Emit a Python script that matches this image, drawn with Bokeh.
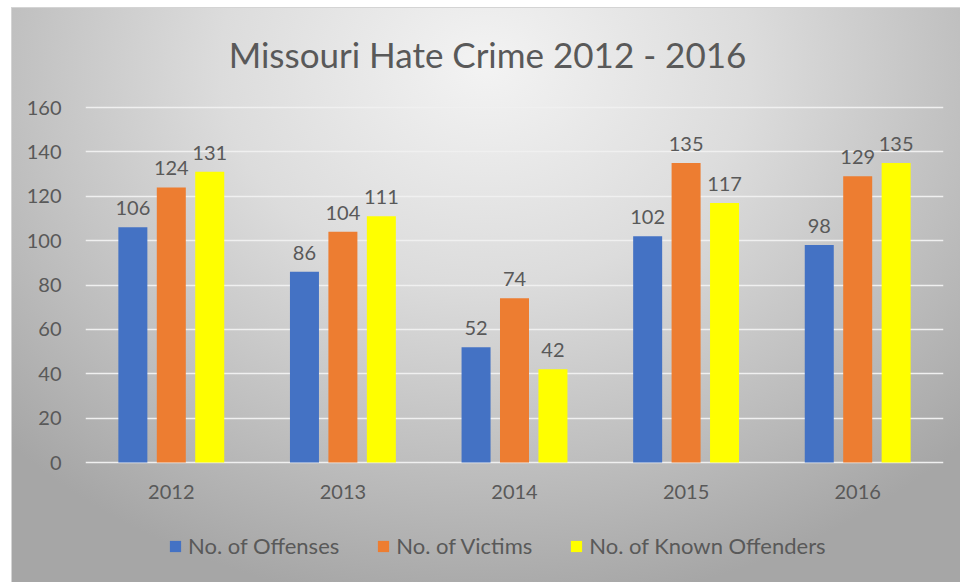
from bokeh.plotting import figure
from bokeh.models import ColumnDataSource, FactorRange, Range1d, Legend, LegendItem, Label
from bokeh.transform import dodge
from bokeh.embed import file_html
from bokeh.resources import INLINE
from bokeh.core.properties import value

# ---- data ----
years = ["2012", "2013", "2014", "2015", "2016"]
offenses = [106, 86, 52, 102, 98]
victims = [124, 104, 74, 135, 129]
known_offenders = [131, 111, 42, 117, 135]
series_names = ["No. of Offenses", "No. of Victims", "No. of Known Offenders"]
series_keys = ["offenses", "victims", "known_offenders"]
series_colors = ["#4472C4", "#ED7D31", "#FFFF00"]
y_ticks = [0, 20, 40, 60, 80, 100, 120, 140, 160]
chart_title = "Missouri Hate Crime 2012 - 2016"

FONT = "Lato"
TXT = "#595959"

# ---- layout (pixels) ----
FRAME_W, FRAME_H = 858, 582
Y0_PX, YTOP_PX = 462, 107            # where 0 and 160 sit from the top
px_per_unit = (Y0_PX - YTOP_PX) / 160.0
y_hi = 160 + YTOP_PX / px_per_unit
y_lo = -(FRAME_H - Y0_PX) / px_per_unit

source = ColumnDataSource(dict(
    years=years,
    offenses=offenses,
    victims=victims,
    known_offenders=known_offenders,
    offenses_lbl=[str(v) for v in offenses],
    victims_lbl=[str(v) for v in victims],
    known_offenders_lbl=[str(v) for v in known_offenders],
))

p = figure(
    x_range=FactorRange(factors=years, range_padding=0),
    y_range=Range1d(y_lo, y_hi),
    frame_width=FRAME_W, frame_height=FRAME_H,
    output_backend="svg", toolbar_location=None,
    min_border_left=85, min_border_right=17,
    min_border_top=0, min_border_bottom=0,
    background_fill_color=None, border_fill_color=None,
    outline_line_color=None,
)
p.styles = {
    "background": (
        "linear-gradient(#d4d4d4, #d4d4d4) 11px 7px / 949px 1px no-repeat, "
        "linear-gradient(#d4d4d4, #d4d4d4) 11px 7px / 1px 575px no-repeat, "
        "radial-gradient(ellipse 70% 95% at 50% 10%, #f3f3f3 0%, #dcdcdc 40%, #bdbdbd 75%, #a6a6a6 100%) "
        "12px 8px / 948px 574px no-repeat, #ffffff"
    ),
}

offsets = [-0.224, 0.0, 0.224]
bar_w = 0.169
items = []
for key, name, col, off in zip(series_keys, series_names, series_colors, offsets):
    r = p.vbar(x=dodge("years", off, range=p.x_range), top=key, width=bar_w,
               source=source, fill_color=col, line_color=None)
    items.append(LegendItem(label=name, renderers=[r]))
    p.text(x=dodge("years", off, range=p.x_range), y=key, text=key + "_lbl",
           source=source, text_align="center", text_baseline="alphabetic",
           y_offset=-19, text_font=value(FONT), text_font_size=value("20px"),
           text_color=TXT)

legend = Legend(items=items, orientation="horizontal", location=(83, 23),
                border_line_color=None, background_fill_alpha=0,
                glyph_width=14, glyph_height=14, label_standoff=6, spacing=37,
                label_text_font=FONT, label_text_font_size="22px",
                label_text_color=TXT, padding=4, margin=0)
p.add_layout(legend, "center")

title = Label(x=402, y=FRAME_H - 53, x_units="screen", y_units="screen",
              text=chart_title, text_align="center", text_baseline="middle",
              text_font=FONT, text_font_size="35px", text_color=TXT)
p.add_layout(title)

p.yaxis.ticker = y_ticks
p.xaxis.fixed_location = 0
for ax in (p.xaxis, p.yaxis):
    ax.axis_line_color = None
    ax.major_tick_line_color = None
    ax.minor_tick_line_color = None
    ax.major_label_text_font = FONT
    ax.major_label_text_font_size = "20px"
    ax.major_label_text_color = TXT
p.yaxis.major_label_standoff = 18
p.xaxis.major_label_standoff = 16

p.xgrid.grid_line_color = None
p.ygrid.ticker = y_ticks
p.ygrid.grid_line_color = "#f0f0f0"
p.ygrid.grid_line_width = 1.5

open("out.html", "w").write(file_html(p, INLINE))
